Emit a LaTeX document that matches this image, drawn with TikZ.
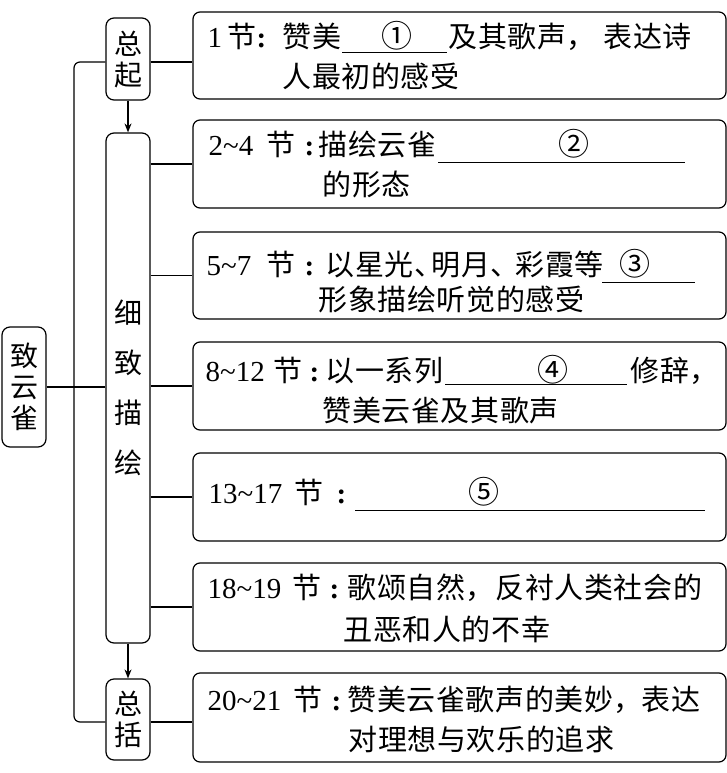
\documentclass[tikz,border=0pt]{standalone}
\usepackage{fontspec}
\setmainfont{Liberation Serif}
\newfontfamily\cjk[LetterSpace=2]{Noto Sans CJK SC}
\newfontfamily\cjkl{Noto Sans CJK SC}
\newcommand\zhs[1]{{\cjk #1}}
\usetikzlibrary{arrows.meta}
\begin{document}
\begin{tikzpicture}[x=1pt,y=-1pt,line width=1.2pt,
  rbox/.style={draw,rounded corners=7pt,inner sep=0pt,minimum width=533pt},
  lbox/.style={draw,rounded corners=8pt,inner sep=0pt,minimum width=44pt,align=center,font=\cjkl\fontsize{28}{31}\selectfont},
  txt/.style={anchor=base west,inner sep=0pt,font=\fontsize{29}{29}\selectfont},
  num/.style={anchor=base,inner sep=0pt,font=\cjkl\fontsize{31}{31}\selectfont},
  arr/.style={-{Stealth[length=9pt,width=7pt]}},
  blank/.style={line width=1pt}]
\useasboundingbox (0,0) rectangle (727,773);
% left boxes
\node[lbox,minimum height=120pt] (root) at (24,387) {致\\云\\雀};
\node[lbox,minimum height=82pt] (zq) at (128,59) {总\\起};
\node[lbox,minimum height=510pt,font=\cjkl\fontsize{28}{50}\selectfont] (xz) at (128,388) {细\\致\\描\\绘};
\node[lbox,minimum height=81pt] (zk) at (128,719.5) {总\\括};
% right boxes
\node[rbox,minimum height=87pt] (b1) at (459.5,55.5) {};
\node[rbox,minimum height=88pt] (b2) at (459.5,164) {};
\node[rbox,minimum height=87pt] (b3) at (459.5,275.5) {};
\node[rbox,minimum height=88pt] (b4) at (459.5,386) {};
\node[rbox,minimum height=88pt] (b5) at (459.5,497) {};
\node[rbox,minimum height=88pt] (b6) at (459.5,607) {};
\node[rbox,minimum height=89pt] (b7) at (459.5,717.5) {};
% connectors
\coordinate (vx) at (74,387);
\draw (root.east) -- (root.east -| xz.west);
\draw[rounded corners=6pt] ([yshift=-3pt]zq.west) -| (vx) |- ([yshift=-2.5pt]zk.west);
\draw ([yshift=-3pt]zq.east) -- ([yshift=-3pt]zq.east -| b1.west);
\foreach \b in {b2,b3,b4,b5,b6} \draw (\b.west -| xz.east) -- (\b.west);
\draw ([yshift=-2.5pt]zk.east) -- ([yshift=-2.5pt]zk.east -| b7.west);
\draw[arr] (zq.south) -- (xz.north);
\draw[arr] (xz.south) -- (zk.north);
% box 1
\node[txt] (p1) at (207,48) {1};
\node[txt] (j1) at (227,48) {\zhs{节}};
\node[txt] (c1) at (256,48) {\textbf{:}};
\node[txt] (m1a) at (282,48) {\zhs{赞美}};
\node[num] (n1) at (397,48) {①};
\node[txt] (m1b) at (448,48) {\zhs{及其歌声，}};
\node[txt] (m1c) at (603,48) {\zhs{表达诗}};
\node[txt] (m1d) at (282,88) {\zhs{人最初的感受}};
\draw[blank] (342,53) -- (447,53);
% box 2
\node[txt] (p2) at (208,155) {2\textasciitilde4};
\node[txt] (j2) at (266,155) {\zhs{节}};
\node[txt] (c2) at (304,155) {\textbf{:}};
\node[txt] (m2a) at (318,155) {\zhs{描绘云雀}};
\node[num] (n2) at (574,155) {②};
\node[txt] (m2b) at (322,195) {\zhs{的形态}};
\draw[blank] (438,162) -- (685,162);
% box 3
\node[txt] (p3) at (206,275) {5\textasciitilde7};
\node[txt] (j3) at (266,275) {\zhs{节}};
\node[txt] (c3) at (304,275) {\textbf{:}};
\node[txt] (m3a) at (325,275) {\zhs{以星光、}};
\node[txt] (m3b) at (431,275) {\zhs{明月、}};
\node[txt] (m3c) at (515,275) {\zhs{彩霞等}};
\node[num] (n3) at (635,275) {③};
\node[txt] (m3d) at (318,310) {\zhs{形象描绘听觉的感受}};
\draw[blank] (602,282) -- (695,282);
% box 4
\node[txt] (p4) at (205,381) {8\textasciitilde12};
\node[txt] (j4) at (273,381) {\zhs{节}};
\node[txt] (c4) at (309,381) {\textbf{:}};
\node[txt] (m4a) at (325,381) {\zhs{以一系列}};
\node[num] (n4) at (553,381) {④};
\node[txt] (m4b) at (630,381) {\zhs{修辞，}};
\node[txt] (m4c) at (322,421) {\zhs{赞美云雀及其歌声}};
\draw[blank] (445,384) -- (627,384);
% box 5
\node[txt] (p5) at (208,503) {13\textasciitilde17};
\node[txt] (j5) at (294,503) {\zhs{节}};
\node[txt] (c5) at (336,503) {\textbf{:}};
\node[num] (n5) at (484,503) {⑤};
\draw[blank] (355,510) -- (705,510);
% box 6
\node[txt] (p6) at (207,598) {18\textasciitilde19};
\node[txt] (j6) at (292,598) {\zhs{节}};
\node[txt] (c6) at (329,598) {\textbf{:}};
\node[txt] (m6a) at (347,598) {\zhs{歌颂自然，}};
\node[txt] (m6b) at (495,598) {\zhs{反衬人类社会的}};
\node[txt] (m6c) at (343,640) {\zhs{丑恶和人的不幸}};
% box 7
\node[txt] (p7) at (207,710) {20\textasciitilde21};
\node[txt] (j7) at (293,710) {\zhs{节}};
\node[txt] (c7) at (331,710) {\textbf{:}};
\node[txt] (m7a) at (347,710) {\zhs{赞美云雀歌声的美妙，}};
\node[txt] (m7b) at (641,710) {\zhs{表达}};
\node[txt] (m7c) at (348,750) {\zhs{对理想与欢乐的追求}};
\end{tikzpicture}
\end{document}
